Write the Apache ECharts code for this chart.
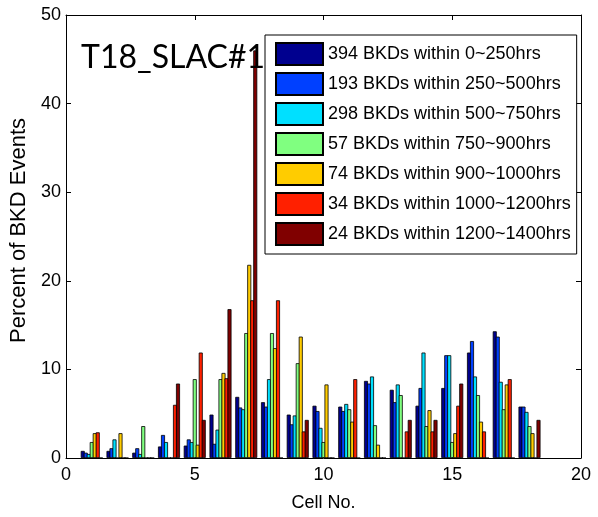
<!DOCTYPE html>
<html>
<head>
<meta charset="utf-8">
<script src="https://cdn.jsdelivr.net/npm/echarts@6/dist/echarts.min.js"></script>
<style>
html,body{margin:0;padding:0;background:#fff;}
#chart{width:598px;height:517px;}
</style>
</head>
<body>
<div id="chart"></div>
<script>
const cells = [1,2,3,4,5,6,7,8,9,10,11,12,13,14,15,16,17,18];
const seriesNames = [
  '394 BKDs within 0~250hrs',
  '193 BKDs within 250~500hrs',
  '298 BKDs within 500~750hrs',
  '57 BKDs within 750~900hrs',
  '74 BKDs within 900~1000hrs',
  '34 BKDs within 1000~1200hrs',
  '24 BKDs within 1200~1400hrs'
];
const bkd0_250     = [0.8,0.8,0.6,1.3,1.4,4.9,6.9,6.3,4.9,5.9,5.8,8.7,7.7,5.9,7.9,11.9,14.3,5.8];
const bkd250_500   = [0.6,1.1,1.1,2.6,2.1,1.6,5.7,5.8,3.8,5.3,5.3,8.4,6.3,7.9,11.6,13.2,13.7,5.8];
const bkd500_750   = [0.45,2.1,0.45,1.8,1.8,3.2,5.5,8.9,4.8,3.4,6.1,9.2,8.3,11.9,11.6,9.2,8.6,5.2];
const bkd750_900   = [1.8,0,3.6,0,8.9,8.9,14.1,14.1,10.7,1.8,5.5,3.7,7.1,3.6,1.8,7.1,5.5,3.6];
const bkd900_1000  = [2.8,2.8,0,0,1.5,9.6,21.8,12.4,13.7,8.3,4.1,1.5,0,5.4,2.8,4.1,8.3,2.8];
const bkd1000_1200 = [2.9,0,0,6.0,11.9,9.0,17.8,17.8,3.0,0,8.9,0,3.0,3.0,5.9,3.0,8.9,0];
const bkd1200_1400 = [0,0,0,8.4,4.3,16.8,46,0,4.3,0,0,0,4.3,4.3,8.4,0,0,4.3];
const seriesValues = [bkd0_250,bkd250_500,bkd500_750,bkd750_900,bkd900_1000,bkd1000_1200,bkd1200_1400];
const colors = ['#00008F','#0040FF','#00E0FF','#80FF80','#FFCC00','#FF2000','#800000'];
const xTicks = [0,5,10,15,20];
const yTicks = [0,10,20,30,40,50];

const font = 'Liberation Sans, Arial, sans-serif';
const chart = echarts.init(document.getElementById('chart'), null, {renderer:'canvas'});

const axisCommon = {
  axisLine:{show:true,onZero:false,lineStyle:{color:'#000',width:1}},
  axisTick:{show:true,inside:true,length:5,lineStyle:{color:'#000'}},
  splitLine:{show:false}
};

const series = seriesNames.map((name,i)=>({
  name:name,
  type:'bar',
  xAxisIndex:0,
  yAxisIndex:0,
  barWidth:4,
  barGap:'-25%',
  data:cells.map((c,j)=>[c,seriesValues[i][j]]),
  itemStyle:{color:colors[i],borderColor:'#000',borderWidth:0.8},
  emphasis:{disabled:true},
  animation:false
}));

chart.setOption({
  animation:false,
  backgroundColor:'#fff',
  title:{
    text:'T18_SLAC#1',
    left:76,
    top:37,
    textStyle:{fontFamily:'Lato, sans-serif',fontSize:32,fontWeight:'normal',color:'#000'}
  },
  grid:{left:66,right:17,top:15,bottom:59,containLabel:false},
  legend:{
    orient:'vertical',
    left:265,
    top:35,
    padding:[7,6,8,10],
    itemWidth:47,
    itemHeight:22,
    itemGap:6,
    icon:'rect',
    selectedMode:false,
    backgroundColor:'#fff',
    borderColor:'#000',
    borderWidth:1,
    textStyle:{fontFamily:font,fontSize:18,color:'#000'},
    data:seriesNames
  },
  xAxis:[
    Object.assign({
      type:'value',min:xTicks[0],max:xTicks[xTicks.length-1],interval:5,position:'bottom',
      name:'Cell No.',nameLocation:'middle',nameGap:36,
      nameTextStyle:{fontFamily:font,fontSize:18,color:'#000'},
      axisLabel:{fontFamily:font,fontSize:18,color:'#000',margin:8}
    },axisCommon),
    Object.assign({
      type:'value',min:xTicks[0],max:xTicks[xTicks.length-1],interval:5,position:'top',
      axisLabel:{show:false}
    },axisCommon)
  ],
  yAxis:[
    Object.assign({
      type:'value',min:yTicks[0],max:yTicks[yTicks.length-1],interval:10,position:'left',
      name:'Percent of BKD Events',nameLocation:'middle',nameGap:29,
      nameTextStyle:{fontFamily:font,fontSize:22,color:'#000',padding:[0,0,0,12]},
      axisLabel:{fontFamily:font,fontSize:18,color:'#000',margin:5}
    },axisCommon),
    Object.assign({
      type:'value',min:yTicks[0],max:yTicks[yTicks.length-1],interval:10,position:'right',
      axisLabel:{show:false}
    },axisCommon)
  ],
  series:series
});
</script>
</body>
</html>
